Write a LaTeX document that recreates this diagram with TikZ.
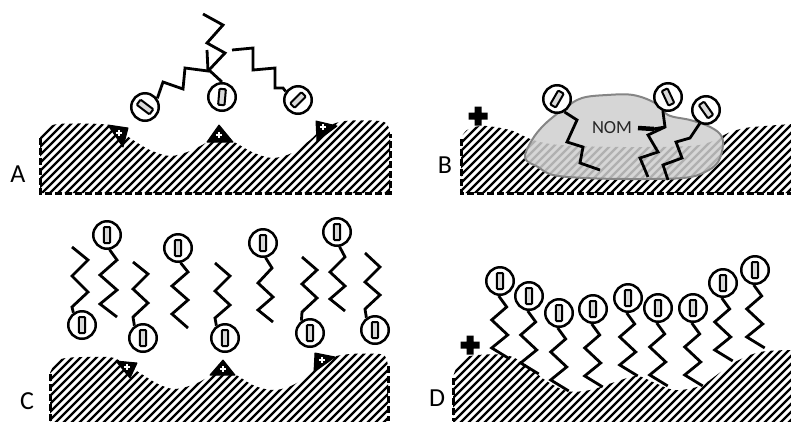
\documentclass[tikz,border=0pt]{standalone}
\usepackage{fontspec}
\setmainfont{Carlito}
\begin{document}
\begin{tikzpicture}[x=1pt,y=-1pt,
  hatch/.style={line width=2.3pt},
  edge/.style={line width=3pt, dash pattern=on 7pt off 3pt},
  chainline/.style={line width=2.8pt, line join=miter},
  headc/.style={circle, draw, line width=2.5pt, fill=white, minimum size=27.5pt, inner sep=0pt},
  barsty/.style={line width=2pt, fill=black!15, rounded corners=1pt},
  site/.style={fill=black, draw, line join=round, line width=1pt},
  blob/.style={white, line width=2.8pt},
  nom/.style={fill=black!19, fill opacity=0.85, draw=black!48, line width=2pt},
  lbl/.style={font=\fontsize{26}{30}\selectfont},
]
% head group: circle with a charge bar inside
\newcommand\hd[4]{%
  \node[headc] (#1) at (#2,#3) {};
  \draw[barsty, shift={(#2,#3)}, rotate=#4] (-3.2,-8) rectangle (3.2,8);
}
% small white plus on a surface site
\newcommand\wplus[2]{%
  \draw[blob, shift={(#1,#2)}] (-3.2,0) -- (3.2,0) (0,-3.2) -- (0,3.2);
}
% black plus sign
\newcommand\bplus[2]{%
  \fill[shift={(#1,#2)}] (-9.5,-3.5) rectangle (9.5,3.5) (-3.5,-9.5) rectangle (3.5,9.5);
}
% vertical zigzag tail hanging below a head
\newcommand\dchain[1]{%
  \draw[chainline] (#1.-95) -- ++(8,11) -- ++(-15,13) -- ++(16,15) -- ++(-16,13) -- ++(18,11);
}

\useasboundingbox (0,0) rectangle (791,421);

% ---------------- A ----------------
\begin{scope}
  \clip (40,193) -- plot[smooth, tension=0.55] coordinates {(40,137) (47,129) (58,124) (100,124) (115,128) (133,140) (150,150) (170,156) (190,151) (208,142) (220,138) (234,142) (252,152) (272,158) (292,153) (310,140) (324,128) (345,121) (380,121) (388,126) (390,134)} -- (390,193) -- cycle;
  \foreach \k in {-45,-37,...,400} \draw[hatch] (\k,200) -- ++(80,-80);
\end{scope}
\draw[edge] (40,138) -- (40,193) -- (390,193) -- (390,134);
\filldraw[site] (108,125) -- (128,128) -- (123,147) -- cycle; \wplus{119}{133}
\filldraw[site] (207,142) -- (233,142) -- (219,125) -- cycle; \wplus{219}{135}
\filldraw[site] (316,121) -- (337,126) -- (317,141) -- cycle; \wplus{323}{127}

\hd{a1}{145}{107}{53}
\hd{a2}{222}{97}{-5}
\hd{a3}{298}{100}{-45}
\draw[chainline] (a1.35) -- (163,82) -- (183,89) -- (185,68) -- (208,71) -- (207,50);
\draw[chainline] (a2.north) -- (209,70) -- (225,53) -- (207,43) -- (223,25) -- (203,14);
\draw[chainline] (a3.145) -- (283,88) -- (275,88) -- (275,68) -- (253,70) -- (253,48) -- (232,50);
\node[lbl] (la) at (18,174) {A};

% ---------------- B ----------------
\begin{scope}
  \clip (461,193) -- plot[smooth, tension=0.55] coordinates {(461,138) (467,130) (480,126) (495,127) (513,131) (533,140) (560,145) (620,147) (690,146) (713,141) (728,133) (745,128) (765,126) (791,124)} -- (791,193) -- cycle;
  \foreach \k in {380,388,...,800} \draw[hatch] (\k,200) -- ++(80,-80);
\end{scope}
\draw[edge] (461,139) -- (461,193) -- (791,193);
\draw[nom] plot[smooth cycle, tension=0.6] coordinates {(525,158) (532,140) (545,124) (565,108) (582,98) (607,95) (633,95) (655,103) (668,115) (690,120) (708,126) (720,134) (723,145) (718,162) (705,172) (683,178) (630,179) (585,178) (553,175) (538,167)};
\node[font=\fontsize{18.5}{20}\selectfont, text=black!85] (nomtxt) at (612,128) {NOM};
\bplus{478}{116}

\hd{b1}{557}{99}{-30}
\hd{b2}{668}{97}{25}
\hd{b3}{706}{110}{35}
\draw[chainline] (b1.-60) -- (577,120) -- (567,142) -- (583,147) -- (580,163) -- (600,170);
\draw[chainline] (b2.-110) -- (665,127) -- (648,135) -- (658,152) -- (640,158) -- (648,177);
\draw[chainline] (665,127) -- (653,129);
\draw[line width=4.5pt] (638,128) -- (654,129);
\draw[chainline] (b3.-115) -- (690,138) -- (676,142) -- (682,158) -- (663,165) -- (668,180);
\node[lbl] (lb) at (445,165) {B};

% ---------------- C ----------------
\begin{scope}
  \clip (50,425) -- plot[smooth, tension=0.55] coordinates {(50,373) (55,364) (66,358) (108,357) (122,362) (140,373) (158,384) (175,389) (195,384) (212,375) (223,371) (236,375) (255,386) (275,390) (295,384) (313,369) (330,358) (350,354) (380,354) (386,358) (388,366)} -- (388,425) -- cycle;
  \foreach \k in {-35,-27,...,400} \draw[hatch] (\k,425) -- ++(80,-80);
\end{scope}
\draw[edge] (50,374) -- (50,421);
\draw[edge] (388,366) -- (388,421);
\filldraw[site] (116,361) -- (137,363) -- (130,378) -- cycle; \wplus{127}{367}
\filldraw[site] (210,375) -- (235,375) -- (223,360) -- cycle; \wplus{223}{369}
\filldraw[site] (315,353) -- (335,357) -- (314,372) -- cycle; \wplus{322}{360}

\hd{c1}{82}{325}{0}
\hd{c2}{107}{235}{0}
\hd{c3}{143}{338}{0}
\hd{c4}{178}{248}{0}
\hd{c5}{225}{338}{0}
\hd{c6}{263}{243}{0}
\hd{c7}{310}{333}{0}
\hd{c8}{337}{232}{0}
\hd{c9}{375}{330}{0}
\draw[chainline] (72,247) -- (88,260) -- (72,276) -- (88,292) -- (72,307) -- (c1.125);
\draw[chainline] (c2.-80) -- (117,260) -- (100,275) -- (117,290) -- (100,304) -- (117,317);
\draw[chainline] (133,262) -- (148,274) -- (133,289) -- (148,303) -- (133,317) -- (c3.125);
\draw[chainline] (c4.-80) -- (188,272) -- (172,286) -- (188,300) -- (172,314) -- (188,328);
\draw[chainline] (215,263) -- (230,276) -- (215,291) -- (230,305) -- (215,318) -- (c5.125);
\draw[chainline] (c6.-80) -- (272,268) -- (258,283) -- (273,297) -- (258,310) -- (273,322);
\draw[chainline] (302,257) -- (317,270) -- (302,284) -- (317,298) -- (302,312) -- (c7.125);
\draw[chainline] (c8.-80) -- (345,257) -- (330,272) -- (345,286) -- (330,299) -- (345,311);
\draw[chainline] (365,253) -- (380,267) -- (365,282) -- (380,295) -- (365,309) -- (c9.125);
\node[lbl] (lc) at (27,401) {C};

% ---------------- D ----------------
\begin{scope}
  \clip (453,425) -- plot[smooth, tension=0.55] coordinates {(453,377) (458,365) (470,356) (505,355) (525,364) (545,380) (567,391) (590,390) (615,382) (637,376) (655,383) (675,390) (700,386) (718,374) (735,362) (760,352) (791,350)} -- (791,425) -- cycle;
  \foreach \k in {370,378,...,800} \draw[hatch] (\k,425) -- ++(80,-80);
\end{scope}
\draw[edge] (453,378) -- (453,421);
\bplus{470}{345}

\hd{d1}{500}{281}{0}
\hd{d2}{529}{296}{0}
\hd{d3}{559}{313}{0}
\hd{d4}{593}{309}{0}
\hd{d5}{628}{298}{0}
\hd{d6}{658}{308}{0}
\hd{d7}{693}{308}{0}
\hd{d8}{723}{283}{0}
\hd{d9}{755}{270}{0}
\dchain{d1}\dchain{d2}\dchain{d3}\dchain{d4}\dchain{d5}
\dchain{d6}\dchain{d7}\dchain{d8}\dchain{d9}
\node[lbl] (ld) at (437,398) {D};
\end{tikzpicture}
\end{document}
